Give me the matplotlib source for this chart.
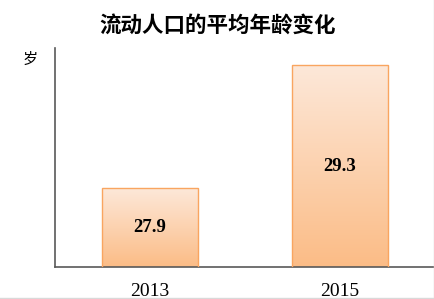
import numpy as np
import matplotlib.pyplot as plt
from matplotlib.colors import LinearSegmentedColormap
from matplotlib.lines import Line2D

years = ["2013", "2015"]
avg_age = [27.9, 29.3]
title = "流动人口的平均年龄变化"
unit = "岁"

fig = plt.figure(figsize=(4.35, 2.99), dpi=100)
ax = fig.add_axes([0.1253, 0.108, 0.8747, 0.7315])

x = np.arange(len(years))
bars = ax.bar(x, avg_age, width=0.505, bottom=0, color="none",
              edgecolor="#F9A560", linewidth=1.0, zorder=3)

ax.set_xlim(-0.5, 1.5)
ax.set_ylim(27.0, 29.5)

# gradient fill for each bar, light at the top
cmap = LinearSegmentedColormap.from_list("peach", ["#FBBC86", "#FDE8D9"])
grad = np.linspace(0, 1, 256).reshape(-1, 1)
for b in bars:
    x0, w = b.get_x(), b.get_width()
    top = b.get_height()
    im = ax.imshow(grad, cmap=cmap, origin="lower", aspect="auto",
                   extent=[x0, x0 + w, 27.0, top], zorder=2)
    im.set_clip_path(b)

for xi, v in zip(x, avg_age):
    ax.text(xi, (27.0 + v) / 2, f"{v:.1f}", ha="center", va="center",
            fontsize=13.5, fontweight="bold", family="Liberation Serif", zorder=4)

ax.set_xticks(x)
ax.set_xticklabels(years, fontsize=14, family="Liberation Serif")
ax.tick_params(axis="x", length=0, pad=12)
ax.set_yticks([])
for s in ["top", "right"]:
    ax.spines[s].set_visible(False)
for s in ["left", "bottom"]:
    ax.spines[s].set_color("#595959")
    ax.spines[s].set_linewidth(1.2)

fig.text(0.5, 0.916, title, ha="center", va="center", fontsize=15.5,
         fontweight="bold", family=["Noto Sans CJK SC", "DejaVu Sans"])
fig.text(0.07, 0.80, unit, ha="center", va="center", fontsize=11,
         family=["Noto Sans CJK SC", "DejaVu Sans"])

# thin grey frame on the right and bottom edges
fig.add_artist(Line2D([0.9985, 0.9985], [0, 1], color="#D9D9D9", lw=1, transform=fig.transFigure))
fig.add_artist(Line2D([0, 1], [0.004, 0.004], color="#D9D9D9", lw=1, transform=fig.transFigure))

fig.savefig("out.png", dpi=100)
